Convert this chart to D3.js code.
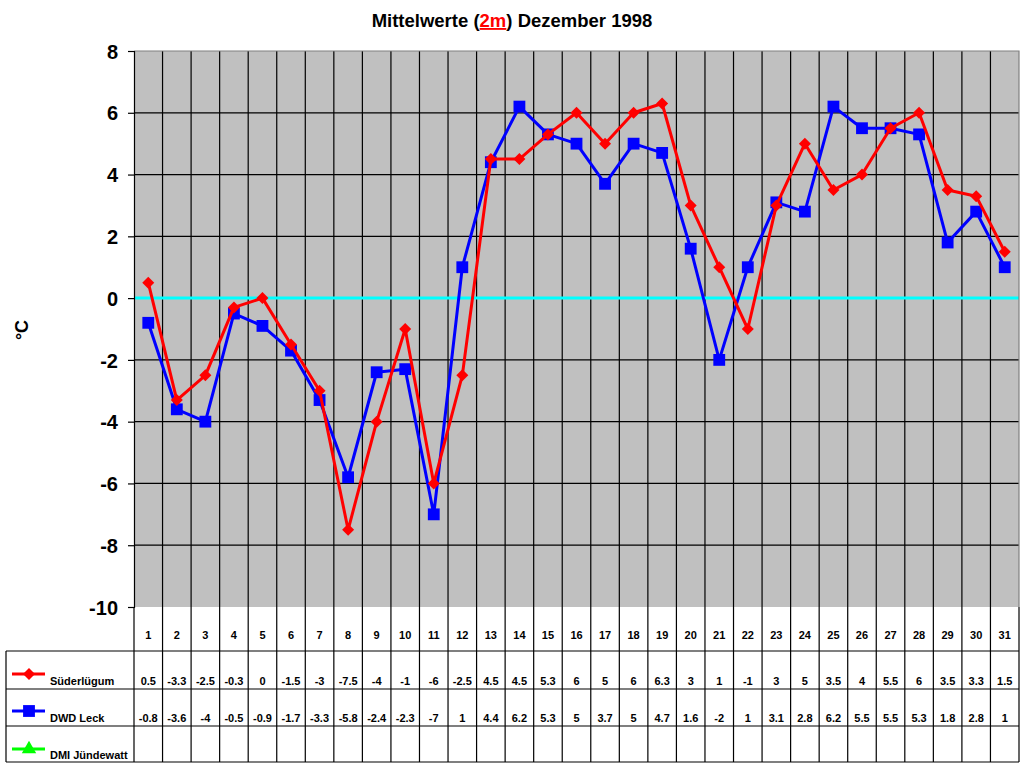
<!DOCTYPE html>
<html><head><meta charset="utf-8">
<script src="https://cdn.jsdelivr.net/npm/d3@7"></script>
<style>body{margin:0;background:#fff}svg{display:block;font-family:"Liberation Sans",Arial,sans-serif;font-weight:bold}</style>
</head><body><svg id="c" width="1024" height="768"></svg>
<script>
const days = d3.range(1, 32).map(String);
const suderlugum = [0.5,-3.3,-2.5,-0.3,0,-1.5,-3,-7.5,-4,-1,-6,-2.5,4.5,4.5,5.3,6,5,6,6.3,3,1,-1,3,5,3.5,4,5.5,6,3.5,3.3,1.5];
const dwdLeck = [-0.8,-3.6,-4,-0.5,-0.9,-1.7,-3.3,-5.8,-2.4,-2.3,-7,1,4.4,6.2,5.3,5,3.7,5,4.7,1.6,-2,1,3.1,2.8,6.2,5.5,5.5,5.3,1.8,2.8,1];
const dmiJundewatt = [];
const yTicks = [8,6,4,2,0,-2,-4,-6,-8,-10];
const seriesNames = ["Süderlügum","DWD Leck","DMI Jündewatt"];
const seriesColors = ["#ff0000","#0000ff","#00ff00"];

const svg = d3.select("#c");
const L = 134, R = 1019, T = 51, B = 607;
const x = d3.scaleBand().domain(days).range([L, R]).padding(0);
const y = d3.scaleLinear().domain([-10, 8]).range([B, T]);

svg.append("rect").attr("x", L).attr("y", T).attr("width", R - L).attr("height", B - T).attr("fill", "#c0c0c0");

svg.append("g").selectAll("line").data(yTicks.filter(v => v !== 8 && v !== -10 && v !== 0)).join("line")
  .attr("x1", L).attr("x2", R).attr("y1", d => y(d)).attr("y2", d => y(d))
  .attr("stroke", "#000").attr("stroke-width", 1.2);
const bounds = days.slice(1).map(d => x(d));
svg.append("g").selectAll("line").data(bounds).join("line")
  .attr("x1", d => d).attr("x2", d => d).attr("y1", T).attr("y2", 762)
  .attr("stroke", "#000").attr("stroke-width", 1.2);

svg.append("line").attr("x1", L).attr("x2", R).attr("y1", y(0)).attr("y2", y(0))
  .attr("stroke", "#00ffff").attr("stroke-width", 3);

svg.append("path").attr("d", `M${L},${T}H${R}V${B}`).attr("fill", "none").attr("stroke", "#808080").attr("stroke-width", 1.2);

const yAxis = d3.axisLeft(y).tickValues(yTicks).tickSize(6).tickPadding(10).tickFormat(d => String(d));
const gy = svg.append("g").attr("transform", `translate(${L},0)`).call(yAxis);
gy.select(".domain").attr("stroke", "#000").attr("stroke-width", 1.2);
gy.selectAll(".tick line").attr("stroke", "#000").attr("stroke-width", 1.2);
gy.selectAll(".tick text").attr("font-size", 20).attr("font-weight", "bold").attr("fill", "#000")
  .attr("font-family", "Liberation Sans, Arial, sans-serif").attr("dy", "0.36em");

svg.append("text").attr("transform", "translate(28,330) rotate(-90)").attr("text-anchor", "middle")
  .attr("font-size", 18).text("°C");

const title = svg.append("text").attr("x", 512).attr("y", 27).attr("text-anchor", "middle").attr("font-size", 18.5);
title.append("tspan").text("Mittelwerte (");
title.append("tspan").attr("fill", "#ff0000").attr("text-decoration", "underline").text("2m");
title.append("tspan").text(") Dezember 1998");

const cx = d => x(d) + x.bandwidth() / 2;
const line = d3.line().x((v, i) => cx(days[i])).y(v => y(v));
const diamond = d3.symbol().type(d3.symbolSquare).size(72);
const square = d3.symbol().type(d3.symbolSquare).size(140);
const triangle = d3.symbol().type(d3.symbolTriangle).size(90);

function drawSeries(vals, color, kind) {
  if (!vals.length) return;
  svg.append("path").datum(vals).attr("d", line).attr("fill", "none").attr("stroke", color).attr("stroke-width", 3).attr("stroke-linejoin", "round");
  svg.append("g").selectAll("path").data(vals).join("path")
    .attr("transform", (v, i) => `translate(${cx(days[i])},${y(v)})` + (kind === "d" ? " rotate(45)" : ""))
    .attr("d", kind === "d" ? diamond : square).attr("fill", color);
}
drawSeries(dwdLeck, seriesColors[1], "s");
drawSeries(suderlugum, seriesColors[0], "d");
drawSeries(dmiJundewatt, seriesColors[2], "t");

const rowTops = [651, 689, 726, 762];
svg.append("g").selectAll("line").data(rowTops).join("line")
  .attr("x1", 6).attr("x2", R).attr("y1", d => d).attr("y2", d => d).attr("stroke", "#000").attr("stroke-width", 1.2);
svg.append("line").attr("x1", 6).attr("x2", 6).attr("y1", 651).attr("y2", 762).attr("stroke", "#000").attr("stroke-width", 1.2);
svg.append("line").attr("x1", L).attr("x2", L).attr("y1", B).attr("y2", 762).attr("stroke", "#000").attr("stroke-width", 1.2);
svg.append("line").attr("x1", R).attr("x2", R).attr("y1", B).attr("y2", 762).attr("stroke", "#000").attr("stroke-width", 1.2);

svg.append("g").selectAll("text").data(days).join("text")
  .attr("x", d => cx(d)).attr("y", 639).attr("text-anchor", "middle").attr("font-size", 11).text(d => d);

const rowBase = [685, 722, 759];
const rowIcon = [674, 711, 749];
const allSeries = [suderlugum, dwdLeck, dmiJundewatt];
allSeries.forEach((vals, r) => {
  svg.append("g").selectAll("text").data(vals).join("text")
    .attr("x", (v, i) => cx(days[i])).attr("y", rowBase[r]).attr("text-anchor", "middle").attr("font-size", 11)
    .text(v => String(v));
  svg.append("line").attr("x1", 12).attr("x2", 45).attr("y1", rowIcon[r]).attr("y2", rowIcon[r])
    .attr("stroke", seriesColors[r]).attr("stroke-width", 3);
  const sym = r === 0 ? diamond : r === 1 ? square : triangle;
  svg.append("path").attr("transform", `translate(29,${rowIcon[r]})` + (r === 0 ? " rotate(45)" : ""))
    .attr("d", sym).attr("fill", seriesColors[r]);
  svg.append("text").attr("x", 50).attr("y", rowBase[r]).attr("font-size", 11).text(seriesNames[r]);
});
</script></body></html>
